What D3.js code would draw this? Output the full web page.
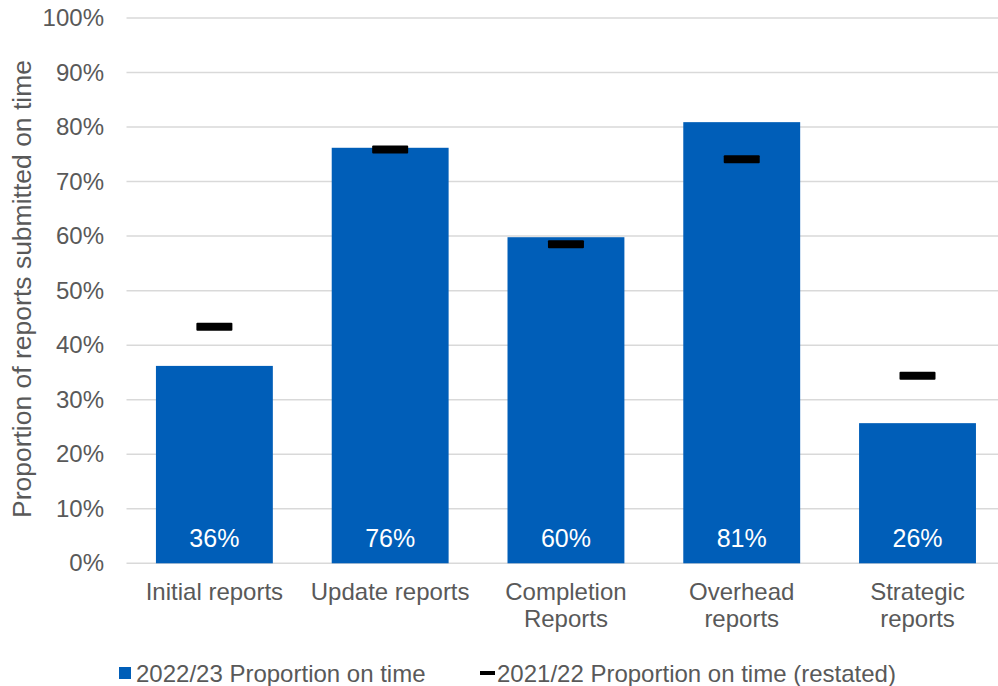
<!DOCTYPE html>
<html>
<head>
<meta charset="utf-8">
<script src="https://cdn.jsdelivr.net/npm/d3@7"></script>
<style>
  html, body { margin: 0; padding: 0; background: #fff; }
  svg { display: block; font-family: "Liberation Sans", Arial, sans-serif; }
</style>
</head>
<body>
<svg id="chart" width="998" height="686"></svg>
<script>
// Report types
const categories = [
  ["Initial reports"],
  ["Update reports"],
  ["Completion", "Reports"],
  ["Overhead", "reports"],
  ["Strategic", "reports"]
];
// 2022/23 proportion submitted on time (bars)
const current = [0.362, 0.762, 0.598, 0.809, 0.257];
// 2021/22 proportion on time, restated (markers)
const previous = [0.434, 0.759, 0.585, 0.741, 0.344];
// Bar labels
const barLabels = ["36%", "76%", "60%", "81%", "26%"];
// Y axis ticks
const yTicks = [0, 0.1, 0.2, 0.3, 0.4, 0.5, 0.6, 0.7, 0.8, 0.9, 1.0];
const legendLabels = ["2022/23 Proportion on time", "2021/22 Proportion on time (restated)"];

const blue = "#005EB8";
const textGrey = "#595959";
const gridGrey = "#d9d9d9";

const svg = d3.select("#chart");
const keys = categories.map(c => c.join(" "));

const x = d3.scaleBand()
  .domain(keys)
  .range([126.5, 1005.4])
  .paddingInner(0.335)
  .paddingOuter(0.1675);

const y = d3.scaleLinear().domain([0, 1]).range([563.3, 18]);

// Gridlines
svg.append("g")
  .selectAll("line")
  .data(yTicks)
  .join("line")
  .attr("x1", 126.5)
  .attr("x2", 998)
  .attr("y1", d => y(d))
  .attr("y2", d => y(d))
  .attr("stroke", gridGrey)
  .attr("stroke-width", 1.5);

// Y axis labels
const yAxis = d3.axisLeft(y)
  .tickValues(yTicks)
  .tickFormat(d3.format(".0%"))
  .tickSize(0)
  .tickPadding(0);
const yg = svg.append("g").attr("transform", "translate(104,0)").call(yAxis);
yg.select(".domain").remove();
yg.selectAll("text")
  .attr("fill", textGrey)
  .attr("font-size", 24)
  .attr("font-family", "Liberation Sans, Arial, sans-serif");

// Y axis title
svg.append("text")
  .attr("transform", "translate(31,289) rotate(-90)")
  .attr("text-anchor", "middle")
  .attr("fill", textGrey)
  .attr("font-size", 26.5)
  .text("Proportion of reports submitted on time");

// Bars
svg.append("g")
  .selectAll("rect")
  .data(current)
  .join("rect")
  .attr("x", (d, i) => x(keys[i]))
  .attr("width", x.bandwidth())
  .attr("y", d => y(d))
  .attr("height", d => y(0) - y(d))
  .attr("fill", blue);

// Bar value labels
svg.append("g")
  .selectAll("text")
  .data(barLabels)
  .join("text")
  .attr("x", (d, i) => x(keys[i]) + x.bandwidth() / 2)
  .attr("y", 546.5)
  .attr("text-anchor", "middle")
  .attr("fill", "#fff")
  .attr("font-size", 25)
  .text(d => d);

// Previous-year markers
const mW = 36, mH = 8;
svg.append("g")
  .selectAll("rect")
  .data(previous)
  .join("rect")
  .attr("x", (d, i) => x(keys[i]) + x.bandwidth() / 2 - mW / 2)
  .attr("y", d => y(d) - mH / 2)
  .attr("width", mW)
  .attr("height", mH)
  .attr("rx", 1)
  .attr("fill", "#000");

// Category labels
const cat = svg.append("g")
  .selectAll("text")
  .data(categories)
  .join("text")
  .attr("x", (d, i) => x(keys[i]) + x.bandwidth() / 2)
  .attr("y", 600)
  .attr("text-anchor", "middle")
  .attr("fill", textGrey)
  .attr("font-size", 24);
cat.selectAll("tspan")
  .data(d => d)
  .join("tspan")
  .attr("x", function () { return d3.select(this.parentNode).attr("x"); })
  .attr("dy", (d, i) => i === 0 ? 0 : 27)
  .text(d => d);

// Legend
const lg = svg.append("g");
lg.append("rect")
  .attr("x", 119).attr("y", 667)
  .attr("width", 12).attr("height", 12)
  .attr("fill", blue);
lg.append("text")
  .attr("x", 136).attr("y", 682)
  .attr("fill", textGrey)
  .attr("font-size", 24)
  .text(legendLabels[0]);
lg.append("rect")
  .attr("x", 480).attr("y", 671)
  .attr("width", 15).attr("height", 4)
  .attr("fill", "#000");
lg.append("text")
  .attr("x", 497).attr("y", 682)
  .attr("fill", textGrey)
  .attr("font-size", 24)
  .text(legendLabels[1]);
</script>
</body>
</html>
